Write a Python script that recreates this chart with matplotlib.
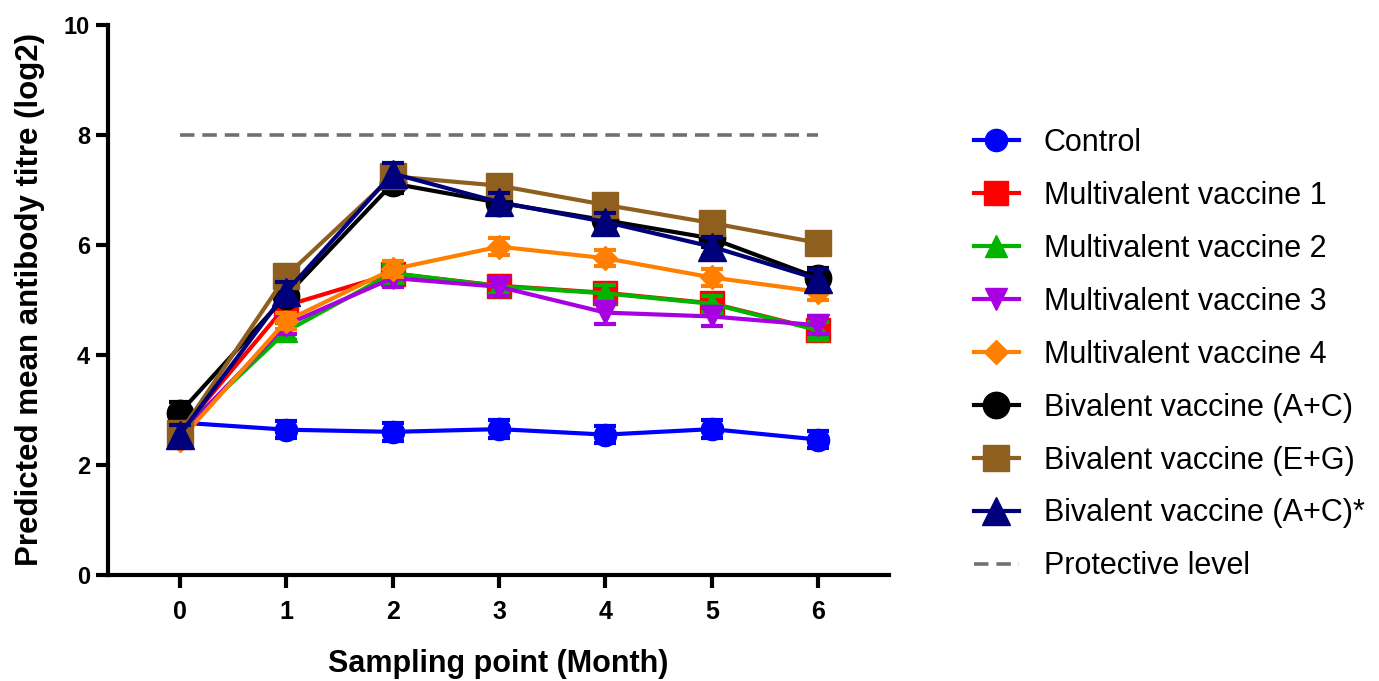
import numpy as np
import matplotlib.pyplot as plt

plt.rcParams['font.family'] = ['Liberation Sans', 'DejaVu Sans']

# data
months = [0, 1, 2, 3, 4, 5, 6]

labels = ["Control", "Multivalent vaccine 1", "Multivalent vaccine 2",
          "Multivalent vaccine 3", "Multivalent vaccine 4",
          "Bivalent vaccine (A+C)", "Bivalent vaccine (E+G)",
          "Bivalent vaccine (A+C)*"]

control = [2.77, 2.64, 2.60, 2.65, 2.55, 2.65, 2.46]
mv1 = [2.60, 4.90, 5.48, 5.26, 5.13, 4.94, 4.46]
mv2 = [2.60, 4.43, 5.49, 5.25, 5.12, 4.93, 4.45]
mv3 = [2.55, 4.55, 5.40, 5.24, 4.77, 4.70, 4.54]
mv4 = [2.45, 4.62, 5.56, 5.97, 5.76, 5.41, 5.15]
biv_ac = [2.95, 5.08, 7.12, 6.77, 6.45, 6.12, 5.40]
biv_eg = [2.58, 5.44, 7.25, 7.08, 6.73, 6.40, 6.04]
biv_ac2 = [2.55, 5.15, 7.30, 6.78, 6.42, 5.97, 5.38]

control_err = [0.15, 0.16, 0.16, 0.17, 0.16, 0.17, 0.16]
mv1_err = [0.15, 0.17, 0.16, 0.17, 0.16, 0.16, 0.16]
mv2_err = [0.15, 0.15, 0.15, 0.15, 0.15, 0.15, 0.15]
mv3_err = [0.15, 0.16, 0.16, 0.16, 0.20, 0.18, 0.16]
mv4_err = [0.15, 0.15, 0.15, 0.15, 0.15, 0.15, 0.15]
biv_ac_err = [0.20, 0.18, 0.18, 0.15, 0.15, 0.15, 0.18]
biv_eg_err = [0.15, 0.15, 0.15, 0.15, 0.15, 0.15, 0.15]
biv_ac2_err = [0.18, 0.18, 0.20, 0.17, 0.17, 0.17, 0.18]

protective = 8

series = [control, mv1, mv2, mv3, mv4, biv_ac, biv_eg, biv_ac2]
errs = [control_err, mv1_err, mv2_err, mv3_err, mv4_err, biv_ac_err, biv_eg_err, biv_ac2_err]
colors = ["#0000FF", "#FF0000", "#00B400", "#A800E0", "#FF8000", "#000000", "#8F5F1F", "#00007A"]
markers = ["o", "s", "^", "v", "D", "o", "s", "^"]
msizes = [16, 17, 16, 16, 12, 19, 19, 20]

fig = plt.figure(figsize=(13.79, 6.81), dpi=100)
ax = fig.add_axes([0.078, 0.156, 0.567, 0.807])

prot_h, = ax.plot(months, [protective] * len(months), color="#707070", lw=2.6,
                  dashes=(4, 2.2), label="Protective level", zorder=1)

handles = []
for i in range(len(series)):
    ax.errorbar(months, series[i], yerr=errs[i], fmt="none", ecolor=colors[i],
                elinewidth=2.4, capsize=8, capthick=3, zorder=2 + i)
    h, = ax.plot(months, series[i], color=colors[i], lw=3, marker=markers[i],
                 ms=msizes[i], mec=colors[i], label=labels[i], zorder=2 + i)
    handles.append(h)
handles.append(prot_h)

ax.set_xlim(-0.68, 6.67)
ax.set_ylim(0, 10)
ax.set_xticks(months)
ax.set_yticks([0, 2, 4, 6, 8, 10])

for s in ["top", "right"]:
    ax.spines[s].set_visible(False)
for s in ["left", "bottom"]:
    ax.spines[s].set_linewidth(3)
ax.tick_params(axis="both", width=3, length=9)
ax.tick_params(axis="y", labelsize=17)
ax.tick_params(axis="x", pad=9, labelsize=18)
for lab in ax.get_xticklabels() + ax.get_yticklabels():
    lab.set_fontweight("bold")

ax.set_xlabel("Sampling point (Month)", fontsize=22, fontweight="bold", labelpad=18)
ax.set_ylabel("Predicted mean antibody titre (log2)", fontsize=22.5, fontweight="bold", labelpad=14)

fig.legend(handles=handles, labels=[h.get_label() for h in handles],
           loc="upper left", bbox_to_anchor=(0.706, 0.812), frameon=False,
           fontsize=22, handlelength=1.5, handletextpad=0.8, labelspacing=0.75,
           borderaxespad=0, borderpad=0)

fig.savefig("out.png", dpi=100)
